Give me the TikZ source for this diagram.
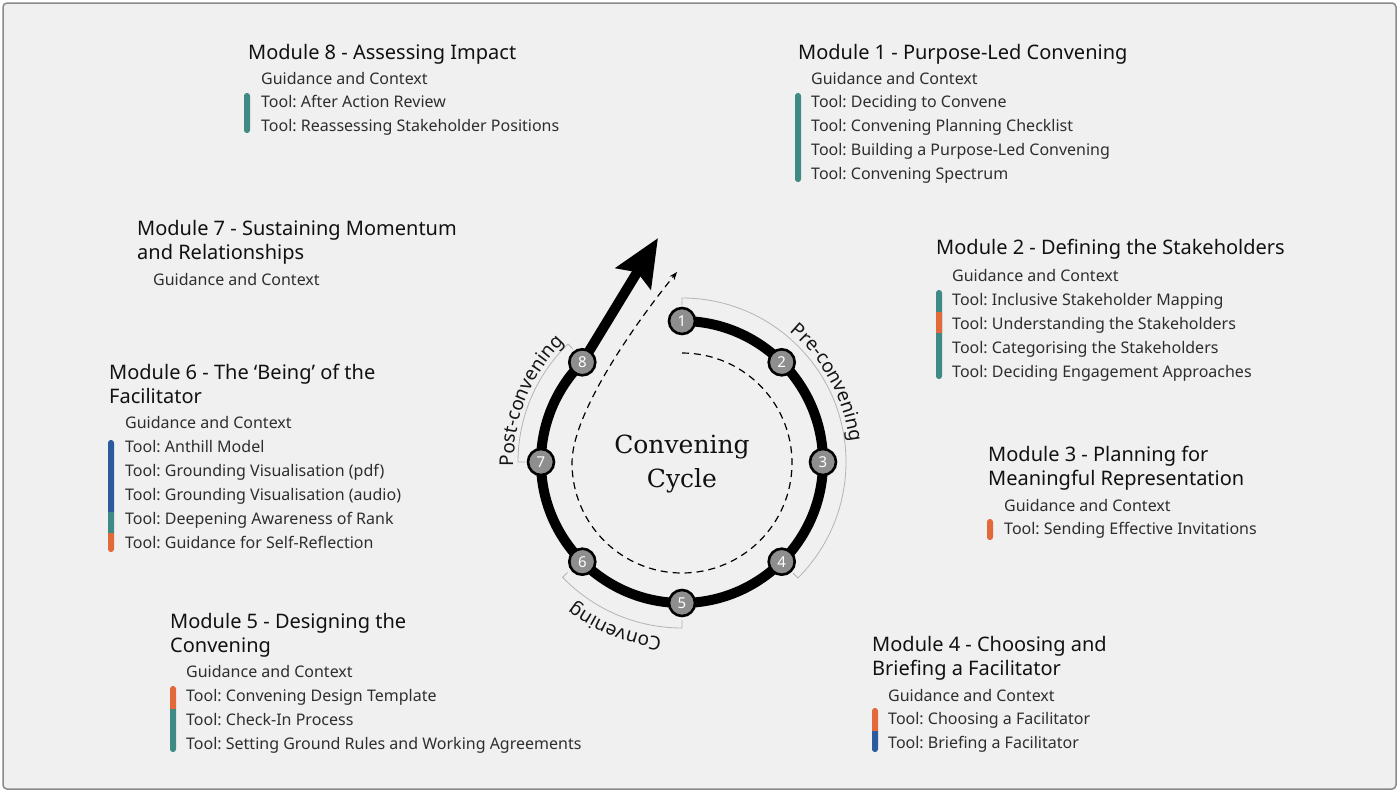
\documentclass[tikz,border=0pt]{standalone}
\usepackage{fontspec}
\setmainfont{Noto Sans}
\newfontfamily\cyclefont{DejaVu Serif}
\usetikzlibrary{arrows.meta,calc,decorations.text}
\frenchspacing
\definecolor{bgcol}{HTML}{F0F0F0}
\definecolor{framecol}{HTML}{8A8A8A}
\definecolor{titlecol}{HTML}{111111}
\definecolor{itemcol}{HTML}{2E2E2E}
\definecolor{teal}{HTML}{3F8A84}
\definecolor{orng}{HTML}{E2693A}
\definecolor{blu}{HTML}{2D5A9C}
\definecolor{numgray}{HTML}{8E8E8E}
\definecolor{brkcol}{HTML}{B4B4B4}
\definecolor{labcol}{HTML}{151515}
\newcommand\colbar[3]{\clip[rounded corners=2.8pt] (#1-3,-#2) rectangle (#1+3,-#3);}
\begin{document}
\begin{tikzpicture}[x=1pt,y=1pt,
  modtitle/.style={anchor=base west, inner sep=0, font=\fontsize{20}{24}\selectfont, text=titlecol},
  moditem/.style={anchor=base west, inner sep=0, font=\fontsize{16}{19}\selectfont, text=itemcol},
  numnode/.style={circle, minimum size=26, inner sep=0, fill=numgray, draw=black, line width=2.6,
    font=\fontsize{15}{15}\selectfont\bfseries, text=white},
  ring/.style={line width=10, line join=round, -{Stealth[length=47, width=40, inset=7]}},
  dashline/.style={line width=1.2, dash pattern=on 7pt off 5pt, -{Stealth[length=8, width=6]}},
  bracket/.style={draw=brkcol, line width=0.8},
  cyc/.style={anchor=base, inner sep=0, font=\cyclefont\fontsize{25}{30}\selectfont, text=titlecol}
]
\useasboundingbox (0,0) rectangle (1400,-793);
\fill[white] (0,0) rectangle (1400,-793);
\draw[fill=bgcol, draw=framecol, line width=1.5, rounded corners=4] (3,-3) rectangle (1396,-789);

% ---------- cycle ----------
\coordinate (c) at (682,-462);
\coordinate (tip) at (658,-238);
\coordinate (dtip) at (677,-272);

% brackets
\draw[bracket] ($(c)+(90:157)$) -- ($(c)+(90:164)$) arc[start angle=90, end angle=-45, radius=164] -- ($(c)+(-45:157)$);
\draw[bracket] ($(c)+(-90:158)$) -- ($(c)+(-90:166)$) arc[start angle=-90, end angle=-136, radius=166] -- ($(c)+(-136:159)$);
\draw[bracket] ($(c)+(180:157)$) -- ($(c)+(180:164)$) arc[start angle=180, end angle=134, radius=164] -- ($(c)+(134:157)$);

% phase labels
\path[decorate, decoration={text along path, text align=center,
  text={|\fontsize{19}{22}\selectfont\color{labcol}|Pre-convening}}]
  ($(c)+(68.5:169)$) arc[start angle=68.5, end angle=-11.5, radius=169];
\path[decorate, decoration={text along path, text align=center,
  text={|\fontsize{19}{22}\selectfont\color{labcol}|Post-convening}}]
  ($(c)+(198:168)$) arc[start angle=198, end angle=118, radius=168];
\path[decorate, decoration={text along path, text align=center,
  text={|\fontsize{19}{22}\selectfont\color{labcol}|Convening}}]
  ($(c)+(-72:177)$) arc[start angle=-72, end angle=-152, radius=177];

% dashed inner path
\draw[dashline] (682,-353) arc[start angle=90, end angle=-180, radius=110]
  .. controls (572,-415) and (630,-330) .. (dtip);

% thick ring
\draw[ring] ($(c)+(90:141)$) arc[start angle=90, end angle=-225, radius=141] -- (tip);

% numbered steps
\node[numnode] (s1) at ($(c)+(90:141)$) {1};
\node[numnode] (s2) at ($(c)+(45:141)$) {2};
\node[numnode] (s3) at ($(c)+(0:141)$) {3};
\node[numnode] (s4) at ($(c)+(-45:141)$) {4};
\node[numnode] (s5) at ($(c)+(-90:141)$) {5};
\node[numnode] (s6) at ($(c)+(-135:141)$) {6};
\node[numnode] (s7) at ($(c)+(180:141)$) {7};
\node[numnode] (s8) at ($(c)+(135:141)$) {8};

\node[cyc] (cyc1) at (682,-453) {Convening};
\node[cyc] (cyc2) at (682,-487) {Cycle};

% ---------- Module 8 ----------
\node[modtitle] (m8t) at (248,-59) {Module 8 - Assessing Impact};
\node[moditem] (m8g) at (261,-84) {Guidance and Context};
\node[moditem] (m8a) at (261,-107.5) {Tool: After Action Review};
\node[moditem] (m8b) at (261,-131.5) {Tool: Reassessing Stakeholder Positions};
\begin{scope}\colbar{247}{93}{133}\fill[teal] (240,-90) rectangle (254,-136);\end{scope}

% ---------- Module 1 ----------
\node[modtitle] (m1t) at (798,-59) {Module 1 - Purpose-Led Convening};
\node[moditem] (m1g) at (811,-84) {Guidance and Context};
\node[moditem] (m1a) at (811,-107.5) {Tool: Deciding to Convene};
\node[moditem] (m1b) at (811,-131.5) {Tool: Convening Planning Checklist};
\node[moditem] (m1c) at (811,-155.5) {Tool: Building a Purpose-Led Convening};
\node[moditem] (m1d) at (811,-179.5) {Tool: Convening Spectrum};
\begin{scope}\colbar{798}{93}{182}\fill[teal] (790,-90) rectangle (806,-185);\end{scope}

% ---------- Module 7 ----------
\node[modtitle] (m7t) at (137,-235) {Module 7 - Sustaining Momentum};
\node[modtitle] (m7u) at (137,-259) {and Relationships};
\node[moditem] (m7g) at (153,-285) {Guidance and Context};

% ---------- Module 2 ----------
\node[modtitle] (m2t) at (936,-254) {Module 2 - Defining the Stakeholders};
\node[moditem] (m2g) at (952,-281) {Guidance and Context};
\node[moditem] (m2a) at (952,-305.5) {Tool: Inclusive Stakeholder Mapping};
\node[moditem] (m2b) at (952,-329.5) {Tool: Understanding the Stakeholders};
\node[moditem] (m2c) at (952,-353.5) {Tool: Categorising the Stakeholders};
\node[moditem] (m2d) at (952,-377.5) {Tool: Deciding Engagement Approaches};
\begin{scope}\colbar{939}{290}{379}\fill[teal] (930,-286) rectangle (948,-383);
  \fill[orng] (930,-312) rectangle (948,-333);\end{scope}

% ---------- Module 6 ----------
\node[modtitle] (m6t) at (109,-379) {Module 6 - The ‘Being’ of the};
\node[modtitle] (m6u) at (109,-403) {Facilitator};
\node[moditem] (m6g) at (125,-428) {Guidance and Context};
\node[moditem] (m6a) at (125,-452.5) {Tool: Anthill Model};
\node[moditem] (m6b) at (125,-476.5) {Tool: Grounding Visualisation (pdf)};
\node[moditem] (m6c) at (125,-500.5) {Tool: Grounding Visualisation (audio)};
\node[moditem] (m6d) at (125,-524.5) {Tool: Deepening Awareness of Rank};
\node[moditem] (m6e) at (125,-548.5) {Tool: Guidance for Self-Reflection};
\begin{scope}\colbar{111}{440}{552}\fill[blu] (100,-436) rectangle (120,-511.5);
  \fill[teal] (100,-511.5) rectangle (120,-533);
  \fill[orng] (100,-533) rectangle (120,-556);\end{scope}

% ---------- Module 3 ----------
\node[modtitle] (m3t) at (988,-461) {Module 3 - Planning for};
\node[modtitle] (m3u) at (988,-485) {Meaningful Representation};
\node[moditem] (m3g) at (1004,-511) {Guidance and Context};
\node[moditem] (m3a) at (1004,-534.5) {Tool: Sending Effective Invitations};
\begin{scope}\colbar{990}{519}{540}\fill[orng] (980,-515) rectangle (1000,-544);\end{scope}

% ---------- Module 5 ----------
\node[modtitle] (m5t) at (170,-628) {Module 5 - Designing the};
\node[modtitle] (m5u) at (170,-652) {Convening};
\node[moditem] (m5g) at (186,-677) {Guidance and Context};
\node[moditem] (m5a) at (186,-701.5) {Tool: Convening Design Template};
\node[moditem] (m5b) at (186,-725.5) {Tool: Check-In Process};
\node[moditem] (m5c) at (186,-749.5) {Tool: Setting Ground Rules and Working Agreements};
\begin{scope}\colbar{173}{686}{752}\fill[orng] (165,-682) rectangle (182,-709);
  \fill[teal] (165,-709) rectangle (182,-756);\end{scope}

% ---------- Module 4 ----------
\node[modtitle] (m4t) at (872,-651) {Module 4 - Choosing and};
\node[modtitle] (m4u) at (872,-675) {Briefing a Facilitator};
\node[moditem] (m4g) at (888,-701) {Guidance and Context};
\node[moditem] (m4a) at (888,-724.5) {Tool: Choosing a Facilitator};
\node[moditem] (m4b) at (888,-748.5) {Tool: Briefing a Facilitator};
\begin{scope}\colbar{875}{708}{752}\fill[orng] (865,-704) rectangle (885,-731);
  \fill[blu] (865,-731) rectangle (885,-756);\end{scope}
\end{tikzpicture}
\end{document}
